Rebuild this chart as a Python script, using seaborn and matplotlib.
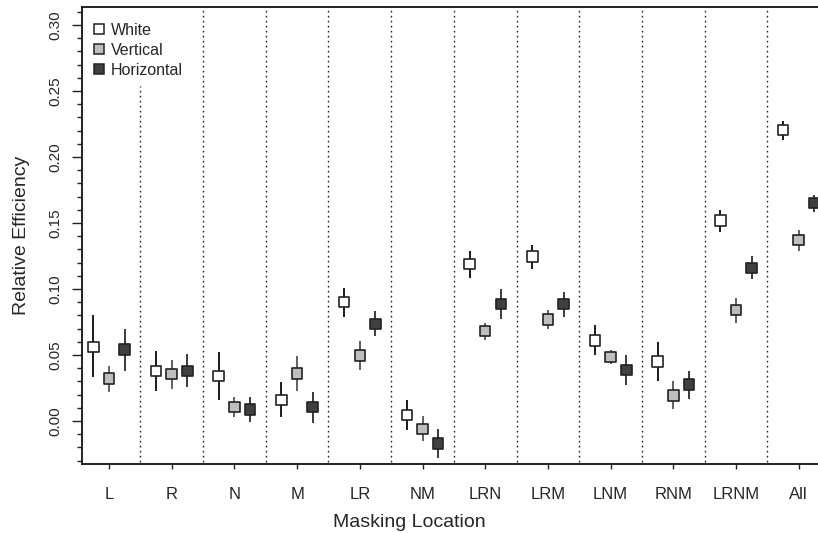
import numpy as np
import pandas as pd
import matplotlib
matplotlib.use("Agg")
import matplotlib.pyplot as plt
from matplotlib.lines import Line2D
from matplotlib.ticker import FixedLocator
import seaborn as sns

categories = ['L', 'R', 'N', 'M', 'LR', 'NM', 'LRN', 'LRM', 'LNM', 'RNM', 'LRNM', 'All']
series = ['White', 'Vertical', 'Horizontal']

white_mean = [0.056, 0.038, 0.034, 0.016, 0.090, 0.0045, 0.119, 0.1245, 0.061, 0.045, 0.152, 0.2205]
white_lo = [0.033, 0.023, 0.016, 0.003, 0.079, -0.007, 0.108, 0.115, 0.050, 0.030, 0.143, 0.213]
white_hi = [0.080, 0.053, 0.052, 0.0295, 0.1005, 0.016, 0.129, 0.1335, 0.0725, 0.0595, 0.160, 0.2275]
vert_mean = [0.032, 0.0355, 0.0105, 0.036, 0.0495, -0.006, 0.068, 0.077, 0.0485, 0.0195, 0.084, 0.137]
vert_lo = [0.022, 0.024, 0.003, 0.0225, 0.0385, -0.015, 0.061, 0.0695, 0.043, 0.009, 0.0745, 0.129]
vert_hi = [0.0415, 0.0465, 0.018, 0.049, 0.0605, 0.0035, 0.0745, 0.084, 0.054, 0.030, 0.093, 0.1445]
horz_mean = [0.054, 0.038, 0.0085, 0.0105, 0.0735, -0.017, 0.0885, 0.0885, 0.0385, 0.0275, 0.116, 0.165]
horz_lo = [0.038, 0.026, -0.001, -0.0015, 0.064, -0.028, 0.077, 0.079, 0.027, 0.017, 0.1075, 0.158]
horz_hi = [0.070, 0.051, 0.018, 0.022, 0.083, -0.006, 0.100, 0.0975, 0.050, 0.038, 0.125, 0.171]

means = {'White': white_mean, 'Vertical': vert_mean, 'Horizontal': horz_mean}
los = {'White': white_lo, 'Vertical': vert_lo, 'Horizontal': horz_lo}
his = {'White': white_hi, 'Vertical': vert_hi, 'Horizontal': horz_hi}

fills = {'White': '#ffffff', 'Vertical': '#bebebe', 'Horizontal': '#404040'}
line_cols = {'White': '#1a1a1a', 'Vertical': '#606060', 'Horizontal': '#3a3a3a'}
offsets = {'White': -0.25, 'Vertical': 0.0, 'Horizontal': 0.25}

rows = []
for s in series:
    for i, c in enumerate(categories):
        rows.append({'cat': c, 'series': s, 'pos': i + 1 + offsets[s],
                     'mean': means[s][i], 'lo': los[s][i], 'hi': his[s][i]})
df = pd.DataFrame(rows)

sns.set_style('ticks')
plt.rcParams['font.family'] = ['Liberation Sans', 'DejaVu Sans']

fig = plt.figure(figsize=(8.18, 5.33), dpi=100)
ax = fig.add_axes([82 / 818, 69 / 533, 736 / 818, 457 / 533])

# dividers
for k in range(1, len(categories)):
    ymax = 0.254 if k == 1 else 0.35
    ax.vlines(k + 0.5, -0.05, ymax, colors='#222222', linestyles=(0, (1.2, 2.4)),
              linewidth=1.0, zorder=1)

# error bars
for s in series:
    d = df[df.series == s]
    ax.vlines(d['pos'], d['lo'], d['hi'], colors=line_cols[s], linewidth=1.4, zorder=2)

sns.scatterplot(data=df, x='pos', y='mean', hue='series', hue_order=series,
                palette=fills, marker='s', s=58, edgecolor='#222222',
                linewidth=1.2, ax=ax, zorder=3, legend=False)

ax.set_xlim(0.569, 12.308)
ax.set_ylim(-0.0326, 0.3136)
ax.set_xticks(range(1, len(categories) + 1))
ax.set_xticklabels(categories)
ax.yaxis.set_major_locator(FixedLocator([0.0, 0.05, 0.10, 0.15, 0.20, 0.25, 0.30]))
ax.yaxis.set_minor_locator(FixedLocator(np.round(np.arange(-0.03, 0.315, 0.01), 3)))
ax.set_yticklabels(['0.00', '0.05', '0.10', '0.15', '0.20', '0.25', '0.30'])
ax.set_xlabel('')
ax.set_ylabel('')

for sp in ['left', 'top', 'bottom']:
    ax.spines[sp].set_linewidth(1.3)
    ax.spines[sp].set_color('#111111')
ax.spines['right'].set_visible(False)

ax.tick_params(axis='y', which='major', length=7.2, width=1.0, pad=7,
               labelsize=11, labelrotation=90, color='#222222')
ax.tick_params(axis='y', which='minor', length=3.6, width=1.0, color='#222222')
ax.tick_params(axis='x', which='major', length=3.6, width=1.0, pad=13,
               labelsize=12, color='#222222')
for lab in ax.get_yticklabels():
    lab.set_verticalalignment('center')

ax.set_xlabel('Masking Location', fontsize=14)
ax.set_ylabel('Relative Efficiency', fontsize=14)
ax.xaxis.set_label_coords(0.5 - 41 / 736, -50 / 457)
ax.yaxis.set_label_coords(-52 / 736, 0.5)

handles = [Line2D([0], [0], marker='s', linestyle='none', markersize=7.5,
                  markerfacecolor=fills[s], markeredgecolor='#222222',
                  markeredgewidth=1.1, label=s) for s in series]
leg = ax.legend(handles=handles, loc='upper left', frameon=False, fontsize=11.5,
                handletextpad=0.25, borderaxespad=0.35, labelspacing=0.32,
                handlelength=1.0, borderpad=0.2, bbox_to_anchor=(0.0, 0.985))

fig.savefig('out.png', dpi=100)
